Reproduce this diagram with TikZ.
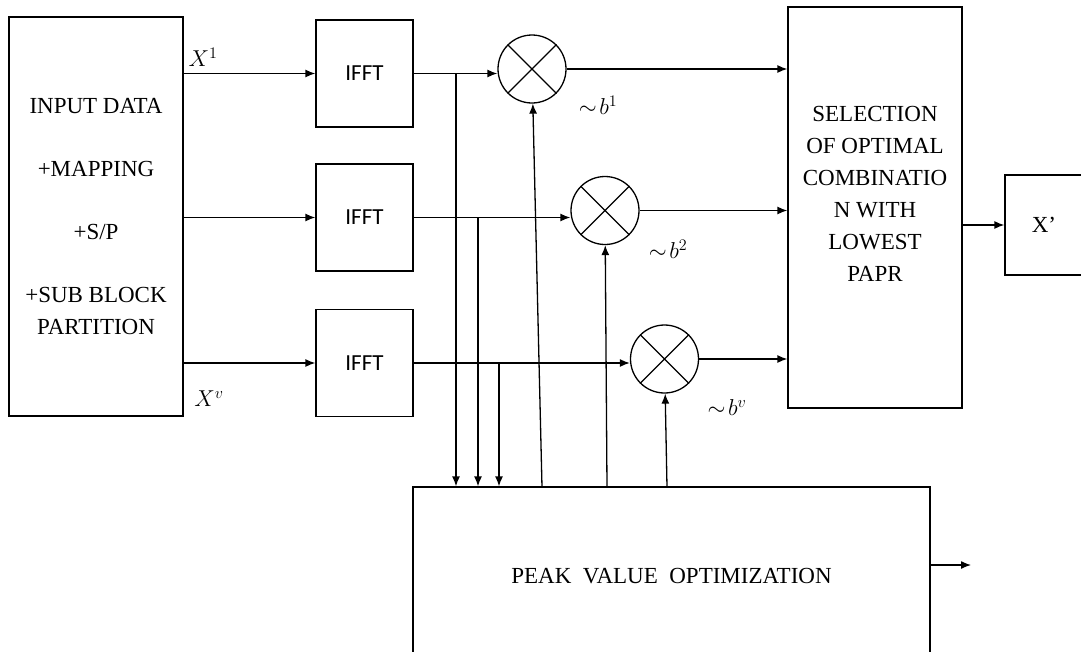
\RequirePackage{fix-cm}
\documentclass[tikz,border=0pt]{standalone}
\usepackage{fontspec}
\setmainfont{Liberation Serif}
\newfontfamily\ifftfont{Carlito}
\usetikzlibrary{arrows.meta}

\begin{document}
\begin{tikzpicture}[
    x=1pt, y=-1pt,
    line width=1.3pt,
    >={Latex[length=10pt,width=8pt]},
    every node/.style={font=\fontsize{23}{32}\selectfont},
    block/.style={draw, inner sep=0pt, align=center},
    ifft/.style={block, minimum width=97pt, minimum height=107pt,
                 font=\fontsize{23}{32}\ifftfont},
    mixer/.style={draw, circle, minimum size=68pt, inner sep=0pt}
]
    \useasboundingbox (0,0) rectangle (1081,651);

    % --- BLOCKS ---
    \node[block, minimum width=174pt, minimum height=399pt] (input) at (96,216.5)
        {INPUT DATA\\[31pt] +MAPPING\\[31pt] +S/P\\[31pt] +SUB BLOCK\\PARTITION};

    \node[ifft] (ifft1) at (364.5,73.5) {IFFT};
    \node[ifft] (ifft2) at (364.5,217.5) {IFFT};
    \node[ifft] (ifft3) at (364.5,363) {IFFT};

    \node[mixer] (m1) at (532,69) {};
    \node[mixer] (m2) at (605,210.5) {};
    \node[mixer] (m3) at (664.5,359) {};
    \foreach \m in {m1,m2,m3}
        \draw (\m.north west) -- (\m.south east) (\m.north east) -- (\m.south west);

    \node[block, minimum width=174pt, minimum height=401pt] (sel) at (875,207.5) {};
    \node[align=center] (seltext) at ([yshift=14pt]sel.center)
        {SELECTION\\OF OPTIMAL\\COMBINATIO\\N WITH\\LOWEST\\PAPR};

    \node[block, minimum width=78pt, minimum height=100pt] (xout) at (1044,225) {X’};

    \node[block, minimum width=517pt, minimum height=178pt] (pvo) at (671.5,576)
        {PEAK\ \ VALUE\ \ OPTIMIZATION};

    % --- Coordinates for branches ---
    \coordinate (t1) at (456,73.5);
    \coordinate (t2) at (478,217.5);
    \coordinate (t3) at (499,363);
    \coordinate (u1) at (542,487);
    \coordinate (u2) at (607,487);
    \coordinate (u3) at (667,487);
    \coordinate (pout) at (971,565);

    % --- Connections ---
    \draw[->] (input.east |- ifft1) -- (ifft1);
    \draw[->] (input.east |- ifft2) -- (ifft2);
    \draw[->] (input.east |- ifft3) -- (ifft3);

    \draw[->] (ifft1.east) -- (ifft1.east -| m1.west);
    \draw[->] (ifft2.east) -- (ifft2.east -| m2.west);
    \draw[->] (ifft3.east) -- (ifft3.east -| m3.west);

    \draw[->] (t1) -- (t1 |- pvo.north);
    \draw[->] (t2) -- (t2 |- pvo.north);
    \draw[->] (t3) -- (t3 |- pvo.north);

    \draw[->] (u1) -- (m1);
    \draw[->] (u2) -- (m2);
    \draw[->] (u3) -- (m3);

    \draw[->] (m1.east) -- (m1.east -| sel.west);
    \draw[->] (m2.east) -- (m2.east -| sel.west);
    \draw[->] (m3.east) -- (m3.east -| sel.west);

    \draw[->] (sel.east |- xout) -- (xout);
    \draw[->] (pvo.east |- pout) -- (pout);

    % --- Labels ---
    \node (x1lab) at (203,57) {$X^{1}$};
    \node (xvlab) at (209,399) {$X^{v}$};
    \node (b1lab) at (598,105) {$\sim\!b^{1}$};
    \node (b2lab) at (668,249) {$\sim\!b^{2}$};
    \node (bvlab) at (727,408) {$\sim\!b^{v}$};

\end{tikzpicture}
\end{document}
